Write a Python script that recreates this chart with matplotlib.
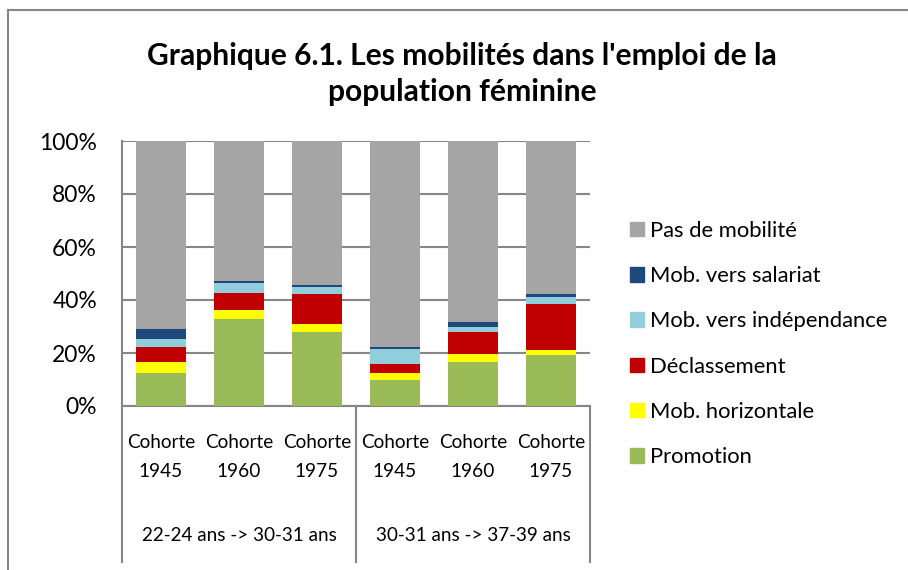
import matplotlib
matplotlib.use('Agg')
import matplotlib.pyplot as plt
from matplotlib.lines import Line2D
from matplotlib.patches import Patch
import numpy as np

plt.rcParams['font.family'] = ['Lato', 'DejaVu Sans']

cohorts = ['Cohorte\n1945', 'Cohorte\n1960', 'Cohorte\n1975',
           'Cohorte\n1945', 'Cohorte\n1960', 'Cohorte\n1975']
groups = ['22-24 ans -> 30-31 ans', '30-31 ans -> 37-39 ans']

# shares in %, bottom to top
promotion = [12.3, 32.7, 28.0, 9.9, 16.7, 19.2]
horizontale = [4.4, 3.5, 2.9, 2.4, 2.9, 1.9]
declassement = [5.6, 6.6, 11.5, 3.5, 8.2, 17.5]
independance = [2.9, 3.7, 2.6, 5.8, 2.1, 2.5]
salariat = [3.9, 0.7, 0.7, 0.8, 1.8, 1.3]
pas_mobilite = [70.9, 52.8, 54.3, 77.6, 68.3, 57.6]

series = [
    ('Promotion', promotion, '#9BBB59'),
    ('Mob. horizontale', horizontale, '#FFFF00'),
    ('Déclassement', declassement, '#C00000'),
    ('Mob. vers indépendance', independance, '#92CDDC'),
    ('Mob. vers salariat', salariat, '#1F497D'),
    ('Pas de mobilité', pas_mobilite, '#A5A5A5'),
]

fig = plt.figure(figsize=(9.08, 5.70), dpi=100)
ax = fig.add_axes([122 / 908, 164 / 570, 468 / 908, 265 / 570])

x = np.arange(len(cohorts))
bottom = np.zeros(len(cohorts))
for name, vals, col in series:
    ax.bar(x, vals, 0.64, bottom=bottom, color=col, zorder=3)
    bottom += np.array(vals)

grid_col = '#868686'
ax.set_ylim(0, 100)
ax.set_xlim(-0.5, len(cohorts) - 0.5)
ax.set_yticks(range(0, 101, 20))
ax.set_yticklabels([f'{v}%' for v in range(0, 101, 20)], fontsize=16.5)
ax.tick_params(axis='y', length=0, pad=18)
ax.yaxis.grid(True, color=grid_col, lw=1.5, zorder=0)
ax.set_xticks(x)
ax.set_xticklabels(cohorts, fontsize=13.7, linespacing=1.85)
ax.tick_params(axis='x', length=0, pad=20)
for s in ['top', 'right']:
    ax.spines[s].set_visible(False)
for s in ['left', 'bottom']:
    ax.spines[s].set_color(grid_col)
    ax.spines[s].set_linewidth(1.5)

# group labels and separators below the axis
for i, g in enumerate(groups):
    ax.annotate(g, xy=(3 * i + 1, -0.49), xycoords=('data', 'axes fraction'),
                ha='center', va='center', fontsize=13.6)
for b in [-0.5, 2.5, 5.5]:
    ax.add_line(Line2D([b, b], [0, -0.589], transform=ax.get_xaxis_transform(),
                       color=grid_col, lw=1.5, clip_on=False))

fig.text(462 / 908, 1 - 74 / 570,
         "Graphique 6.1. Les mobilités dans l'emploi de la\npopulation féminine",
         ha='center', va='center', fontsize=21.6, fontweight='bold', linespacing=1.32)

handles = [Patch(color=col, label=name) for name, vals, col in series][::-1]
fig.legend(handles=handles, loc='center left', bbox_to_anchor=(610 / 908, 1 - 344 / 570),
           frameon=False, fontsize=15.8, handlelength=0.64, handleheight=0.64,
           handletextpad=0.3, labelspacing=1.15)

# chart frame (top and left edges visible)
fig.add_artist(Line2D([8 / 908, 8 / 908], [0, 1 - 10 / 570], transform=fig.transFigure,
                      color=grid_col, lw=1.5))
fig.add_artist(Line2D([8 / 908, 1], [1 - 10 / 570, 1 - 10 / 570], transform=fig.transFigure,
                      color=grid_col, lw=1.5))

fig.savefig('out.png', dpi=100)
